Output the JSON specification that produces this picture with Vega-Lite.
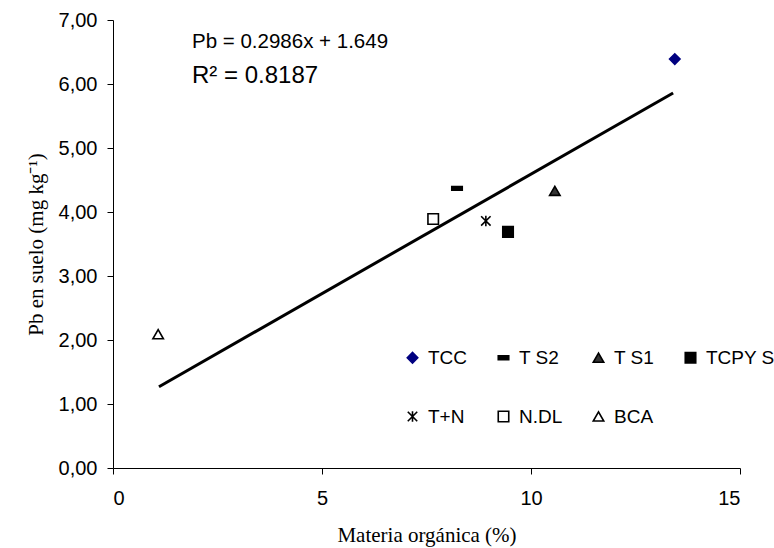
{
  "$schema": "https://vega.github.io/schema/vega-lite/v6.json",
  "autosize": "none",
  "width": 627,
  "height": 448,
  "padding": {"left": 113, "top": 20, "right": 34, "bottom": 80},
  "background": "white",
  "config": {
    "view": {"stroke": null},
    "axis": {
      "grid": false,
      "domainColor": "black",
      "tickColor": "black",
      "tickSize": 6,
      "labelColor": "black",
      "labelFont": "Liberation Sans",
      "labelFontSize": 20,
      "titleFont": "Liberation Serif",
      "titleFontSize": 21,
      "titleFontWeight": "normal",
      "titleColor": "black"
    }
  },
  "layer": [
    {
      "data": {"values": [
        {"mo": 1.1, "pb": 1.27},
        {"mo": 13.4, "pb": 5.86}
      ]},
      "mark": {"type": "line", "color": "black", "strokeWidth": 3},
      "encoding": {
        "x": {"field": "mo", "type": "quantitative", "scale": {"domain": [0, 15], "nice": false},
              "axis": {"values": [0, 5, 10, 15], "title": "Materia orgánica (%)", "labelPadding": 14, "titlePadding": 16}},
        "y": {"field": "pb", "type": "quantitative", "scale": {"domain": [0, 7], "nice": false},
              "axis": {"values": [0, 1, 2, 3, 4, 5, 6, 7], "title": "Pb en suelo (mg kg⁻¹)",
                       "labelExpr": "replace(format(datum.value, '.2f'), '.', ',')", "labelPadding": 10, "titlePadding": 12}}
      }
    },
    {
      "data": {"values": [
        {"serie": "TCC", "mo": 13.44, "pb": 6.39},
        {"serie": "T S2", "mo": 8.23, "pb": 4.37},
        {"serie": "T S1", "mo": 10.57, "pb": 4.33},
        {"serie": "TCPY S", "mo": 9.45, "pb": 3.69},
        {"serie": "T+N", "mo": 8.92, "pb": 3.86},
        {"serie": "N.DL", "mo": 7.66, "pb": 3.89},
        {"serie": "BCA", "mo": 1.08, "pb": 2.09}
      ]},
      "mark": {"type": "point", "size": 110, "opacity": 1, "strokeWidth": 1.6},
      "encoding": {
        "x": {"field": "mo", "type": "quantitative"},
        "y": {"field": "pb", "type": "quantitative"},
        "shape": {"field": "serie", "type": "nominal",
          "scale": {"domain": ["TCC", "T S2", "T S1", "TCPY S", "T+N", "N.DL", "BCA"],
                    "range": ["diamond", "M-1,-0.35L1,-0.35L1,0.35L-1,0.35Z", "triangle-up", "square",
                              "M-0.9,-0.9L0.9,0.9M-0.9,0.9L0.9,-0.9M0,-1L0,1", "square", "triangle-up"]},
          "legend": {"orient": "none", "legendX": 290, "legendY": 328, "columns": 4, "direction": "horizontal", "title": null,
                     "labelFont": "Liberation Sans", "labelFontSize": 19, "labelColor": "black",
                     "symbolSize": 110, "symbolStrokeWidth": 1.6, "symbolOpacity": 1,
                     "columnPadding": 26, "rowPadding": 39, "labelOffset": 6}},
        "fill": {"field": "serie", "type": "nominal",
          "scale": {"domain": ["TCC", "T S2", "T S1", "TCPY S", "T+N", "N.DL", "BCA"],
                    "range": ["#000080", "black", "#333333", "black", "white", "white", "white"]}},
        "stroke": {"field": "serie", "type": "nominal",
          "scale": {"domain": ["TCC", "T S2", "T S1", "TCPY S", "T+N", "N.DL", "BCA"],
                    "range": ["#000080", "black", "black", "black", "black", "black", "black"]}}
      }
    },
    {
      "data": {"values": [
        {"txt": "Pb = 0.2986x + 1.649", "mo": 1.89, "pb": 6.66, "fs": "a"},
        {"txt": "R² = 0.8187", "mo": 1.89, "pb": 6.13, "fs": "b"}
      ]},
      "mark": {"type": "text", "align": "left", "baseline": "middle", "font": "Liberation Sans", "color": "black"},
      "encoding": {
        "x": {"field": "mo", "type": "quantitative"},
        "y": {"field": "pb", "type": "quantitative"},
        "text": {"field": "txt"},
        "size": {"field": "fs", "type": "nominal", "scale": {"domain": ["a", "b"], "range": [20.5, 24]}, "legend": null}
      }
    }
  ]
}
